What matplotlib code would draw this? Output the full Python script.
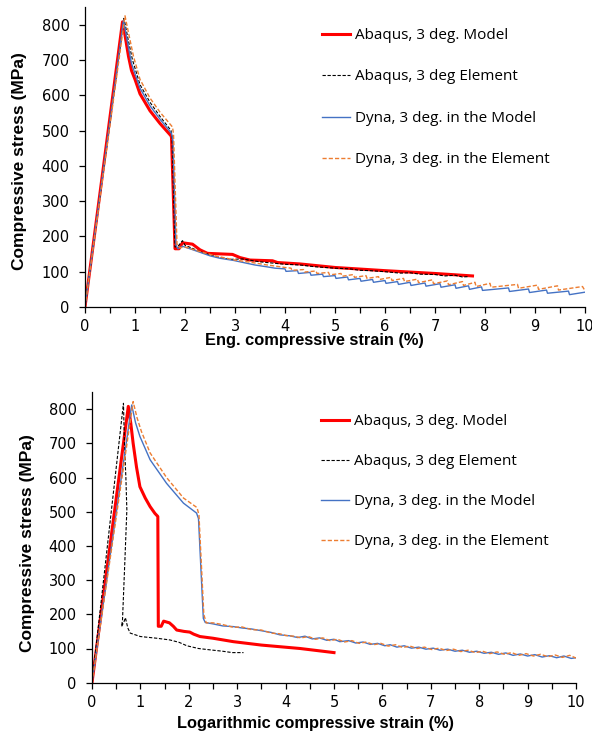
import matplotlib
matplotlib.use("Agg")
import matplotlib.pyplot as plt

labels = ['Abaqus, 3 deg. Model', 'Abaqus, 3 deg Element',
          'Dyna, 3 deg. in the Model', 'Dyna, 3 deg. in the Element']

# ---- top chart: engineering strain (%) vs stress (MPa)
abq_model_eng_x = [0, 0.75, 0.8, 0.87, 0.93, 1.0, 1.1, 1.3, 1.5, 1.72, 1.73, 1.80, 1.88, 1.95,
                   2.15, 2.3, 2.45, 2.95, 3.1, 3.3, 3.75, 3.85, 4.3, 5.0, 6.0, 7.0, 7.75]
abq_model_eng_y = [0, 808, 770, 710, 670, 645, 604, 556, 520, 485, 480, 165, 165, 182,
                   178, 162, 152, 149, 140, 133, 131, 126, 122, 112, 103, 95, 88]

abq_elem_eng_x = [0, 0.78, 0.86, 0.95, 1.1, 1.3, 1.5, 1.72, 1.74, 1.80, 1.86, 1.95, 2.0, 2.3,
                  2.6, 2.9, 3.15, 3.5, 4.0, 4.3, 4.6, 5.0, 5.3, 5.5, 5.7, 6.0, 6.3, 6.5,
                  6.7, 7.0, 7.2, 7.4, 7.55, 7.65]
abq_elem_eng_y = [0, 818, 760, 700, 630, 580, 540, 500, 480, 170, 172, 188, 175, 157,
                  143, 135, 136, 128, 121, 119, 114, 110, 108, 104, 103, 100, 96, 97,
                  93, 92, 88, 90, 85, 86]

dyna_model_eng_x = [0, 0.77, 0.85, 0.93, 1.1, 1.3, 1.5, 1.73, 1.76, 1.82, 1.86, 1.95, 2.1,
                    2.3, 2.5, 2.7, 2.97, 3.2, 3.4, 3.63, 3.8,
                    4.0, 4.02, 4.25, 4.27, 4.5, 4.52, 4.75, 4.77, 5.0, 5.02, 5.25, 5.27,
                    5.5, 5.52, 5.75, 5.77, 6.0, 6.02, 6.25, 6.27, 6.5, 6.52, 6.8, 6.82,
                    7.1, 7.12, 7.4, 7.42, 7.67, 7.69, 7.93, 7.95, 8.47, 8.49, 8.87, 8.89,
                    9.23, 9.25, 9.67, 9.69, 10.0]
dyna_model_eng_y = [0, 812, 750, 690, 620, 570, 532, 492, 470, 175, 165, 172, 165,
                    155, 145, 138, 132, 125, 119, 114, 110,
                    108, 101, 103, 95, 98, 90, 93, 86, 89, 81, 85, 77,
                    81, 73, 78, 70, 75, 67, 72, 64, 70, 61, 68, 59,
                    66, 56, 63, 53, 60, 50, 57, 47, 54, 44, 51, 41,
                    48, 39, 45, 35, 42]

dyna_elem_eng_x = [0, 0.8, 0.88, 0.97, 1.1, 1.3, 1.5, 1.75, 1.77, 1.84, 1.9, 2.0, 2.3, 2.6,
                   3.0, 3.3, 3.6, 4.0,
                   4.12, 4.14, 4.37, 4.39, 4.62, 4.64, 4.87, 4.89, 5.12, 5.14, 5.37, 5.39,
                   5.62, 5.64, 5.87, 5.89, 6.12, 6.14, 6.37, 6.39, 6.65, 6.67, 6.95, 6.97,
                   7.25, 7.27, 7.55, 7.57, 7.8, 7.82, 8.1, 8.12, 8.65, 8.67, 9.05, 9.07,
                   9.45, 9.47, 9.95, 10.0]
dyna_elem_eng_y = [0, 825, 770, 710, 645, 592, 552, 510, 490, 178, 168, 170, 157, 145,
                   133, 127, 120, 112,
                   110, 104, 106, 99, 102, 95, 98, 91, 95, 87, 92, 84,
                   89, 81, 86, 78, 84, 75, 81, 72, 79, 69, 77, 66,
                   74, 63, 72, 61, 70, 58, 67, 56, 64, 53, 62, 50,
                   60, 48, 58, 46]

# ---- bottom chart: logarithmic strain (%) vs stress (MPa)
abq_model_log_x = [0, 0.75, 0.8, 0.85, 0.92, 0.99, 1.1, 1.2, 1.3, 1.36, 1.37, 1.43, 1.48, 1.6,
                   1.68, 1.75, 1.9, 2.02, 2.1, 2.23, 2.5, 2.92, 3.5, 4.3, 5.0]
abq_model_log_y = [0, 808, 760, 700, 630, 573, 540, 515, 495, 486, 165, 165, 180, 175,
                   165, 154, 150, 148, 142, 135, 130, 120, 110, 100, 88]

abq_elem_log_x = [0, 0.65, 0.67, 0.70, 0.72, 0.68, 0.63, 0.61, 0.66, 0.69, 0.74, 0.79, 1.0,
                  1.27, 1.34, 1.61, 1.8, 1.96, 2.2, 2.44, 2.7, 2.9, 3.13]
abq_elem_log_y = [0, 817, 700, 600, 505, 359, 183, 164, 178, 190, 160, 145, 135,
                  131, 130, 125, 118, 108, 100, 96, 92, 88, 88]

dyna_model_log_x = [0, 0.82, 0.9, 0.99, 1.2, 1.54, 1.89, 2.16, 2.2, 2.3, 2.34,
                    2.5, 2.7, 2.92, 3.1, 3.3, 3.5, 3.7, 3.88, 4.09, 4.25, 4.4, 4.55, 4.7,
                    4.85, 5.0, 5.12, 5.3, 5.45, 5.6, 5.75, 5.9, 6.05, 6.16, 6.3, 6.45,
                    6.6, 6.75, 6.9, 7.05, 7.19, 7.35, 7.5, 7.65, 7.8, 7.95, 8.1, 8.25,
                    8.4, 8.55, 8.7, 8.85, 9.0, 9.15, 9.3, 9.45, 9.6, 9.75, 9.9, 10.0]
dyna_model_log_y = [0, 812, 760, 720, 652, 583, 525, 496, 480, 188, 176,
                    172, 166, 164, 160, 157, 152, 147, 140, 137, 132, 136, 128, 131,
                    124, 127, 120, 123, 116, 119, 112, 115, 108, 111, 104, 108,
                    101, 104, 98, 101, 95, 98, 92, 95, 89, 92, 86, 89,
                    83, 87, 80, 84, 78, 82, 75, 79, 73, 78, 71, 73]

dyna_elem_log_x = [0, 0.85, 0.93, 1.02, 1.2, 1.54, 1.89, 2.17, 2.21, 2.31, 2.36,
                   2.5, 2.7, 2.92, 3.1, 3.3, 3.5, 3.7, 3.88, 4.0, 4.17, 4.32, 4.47, 4.62,
                   4.77, 4.92, 5.07, 5.22, 5.37, 5.52, 5.67, 5.82, 5.97, 6.12, 6.27, 6.42,
                   6.57, 6.72, 6.87, 7.02, 7.17, 7.32, 7.47, 7.62, 7.77, 7.92, 8.07, 8.22,
                   8.37, 8.52, 8.67, 8.82, 8.97, 9.12, 9.27, 9.42, 9.57, 9.72, 9.87, 10.0]
dyna_elem_log_y = [0, 822, 775, 735, 672, 600, 540, 512, 490, 200, 175,
                   175, 170, 162, 163, 155, 154, 145, 143, 138, 136, 131, 135, 127,
                   131, 123, 127, 119, 123, 115, 119, 111, 115, 107, 111, 103,
                   107, 100, 104, 97, 101, 94, 98, 91, 95, 88, 92, 85,
                   90, 83, 88, 80, 85, 78, 83, 76, 81, 74, 80, 72]

styles = [dict(color='#FF0000', lw=2.2, ls='-'),
          dict(color='black', lw=0.8, ls=(0, (3, 1.5))),
          dict(color='#4472C4', lw=1.0, ls='-'),
          dict(color='#ED7D31', lw=1.0, ls=(0, (3, 1.5)))]

fig = plt.figure(figsize=(5.92, 7.34), dpi=100)
ax1 = fig.add_axes([85 / 592, 1 - 307 / 734, 500 / 592, 300 / 734])
ax2 = fig.add_axes([92 / 592, 1 - 682.7 / 734, 484 / 592, 290.7 / 734])

top_data = [(abq_model_eng_x, abq_model_eng_y), (abq_elem_eng_x, abq_elem_eng_y),
            (dyna_model_eng_x, dyna_model_eng_y), (dyna_elem_eng_x, dyna_elem_eng_y)]
bot_data = [(abq_model_log_x, abq_model_log_y), (abq_elem_log_x, abq_elem_log_y),
            (dyna_model_log_x, dyna_model_log_y), (dyna_elem_log_x, dyna_elem_log_y)]

# axes, data, x title, legend anchor (px), legend spacing, x-title coords, y-title coords
setups = [(ax1, top_data, 'Eng. compressive strain (%)', (322, 28), 1.73,
           (0.458, -0.087), (-0.116, 0.487)),
          (ax2, bot_data, 'Logarithmic compressive strain (%)', (321, 414), 1.64,
           (0.461, -0.114), (-0.118, 0.482))]

for ax, data, xlabel, leg_xy, lsp, xl_pos, yl_pos in setups:
    for (x, y), lab, st in zip(data, labels, styles):
        ax.plot(x, y, label=lab, **st)
    ax.set_xlim(0, 10)
    ax.set_ylim(0, 850)
    ax.set_xticks(range(0, 11))
    ax.set_xticks([i + 0.5 for i in range(10)], minor=True)
    ax.set_yticks(range(0, 900, 100))
    for s in ['top', 'right']:
        ax.spines[s].set_visible(False)
    for s in ['left', 'bottom']:
        ax.spines[s].set_linewidth(0.9)
    ax.tick_params(which='both', direction='out', length=4.5, width=0.9, labelsize=10.5)
    ax.tick_params(axis='x', pad=4)
    ax.tick_params(axis='y', pad=6.5)
    for t in ax.get_xticklabels() + ax.get_yticklabels():
        t.set_family('DejaVu Sans')
    ax.set_xlabel(xlabel, fontsize=11.8, fontweight='bold', family='Liberation Sans')
    ax.xaxis.set_label_coords(*xl_pos)
    ax.set_ylabel('Compressive stress (MPa)', fontsize=12.5, fontweight='bold',
                  family='Liberation Sans')
    ax.yaxis.set_label_coords(*yl_pos)
    ax.legend(loc='upper left', bbox_to_anchor=(leg_xy[0] / 592, 1 - leg_xy[1] / 734),
              bbox_transform=fig.transFigure, frameon=False, borderpad=0,
              borderaxespad=0, handlelength=1.85, handletextpad=0.3, labelspacing=lsp,
              prop={'family': 'Open Sans', 'size': 11})

fig.savefig('out.png', dpi=100)
